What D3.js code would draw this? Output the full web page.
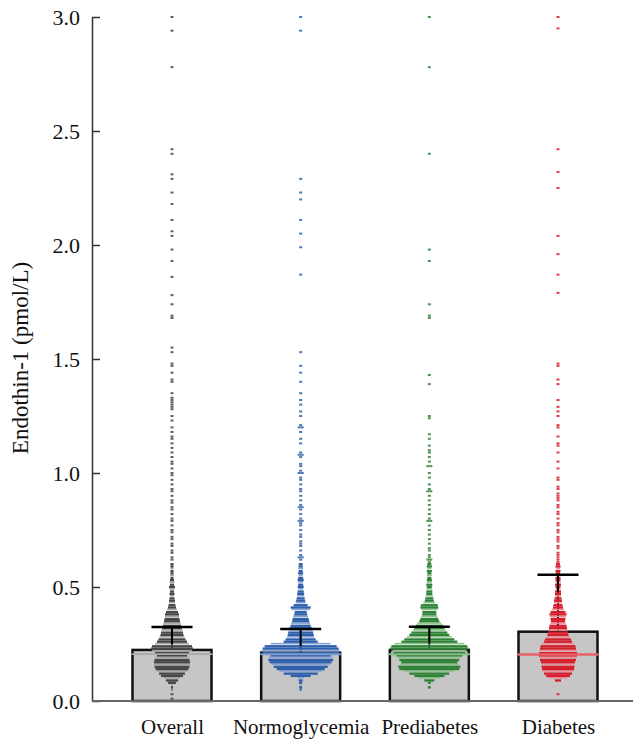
<!DOCTYPE html>
<html>
<head>
<meta charset="utf-8">
<script src="https://cdn.jsdelivr.net/npm/d3@7"></script>
<style>
  html, body { margin: 0; padding: 0; background: #fff; }
  svg { display: block; }
</style>
</head>
<body>
<svg id="chart" width="635" height="746"></svg>
<script>
// ---------------- DATA ----------------
const categories = ["Overall", "Normoglycemia", "Prediabetes", "Diabetes"];
const barMeans   = [0.224, 0.212, 0.224, 0.304];
const errUpper   = [0.325, 0.316, 0.326, 0.554];
const medians    = [0.206, 0.205, 0.205, 0.204];
const yTicks     = [0.0, 0.5, 1.0, 1.5, 2.0, 2.5, 3.0];
const yTitle     = "Endothin-1 (pmol/L)";

// Dense part: binned widths (points per 0.01 pmol/L bin), bins start at 0.05
const binStart = 0.05;
const binStep  = 0.01;
const overallBins = [1,2,3,8,12,16,22,26,30,33,35,36,36,35,33,30,34,40,42,40,34,30,27,25,23,22,21,20,18,17,16,15,14,14,12,10,8,7,6,6,5,4,5,4,5,6,4,5,4,3,4,3,3,3,3,3];
const normoBins   = [2,3,2,3,4,6,20,34,42,48,54,58,62,65,64,60,76,78,76,72,60,34,30,27,26,25,23,22,20,19,17,16,15,13,12,18,20,14,10,9,8,7,7,6,5,6,5,5,6,5,4,5,4,5,4,4];
const preBins     = [0,2,0,3,10,22,30,40,50,60,62,58,56,60,64,66,72,74,78,76,70,56,50,45,40,36,33,30,27,24,20,18,16,14,14,16,18,17,12,9,8,7,6,6,6,5,6,5,5,4,5,4,5,4,5,4];
const diabBins    = [0,0,0,0,6,18,24,28,31,32,33,33,34,36,38,38,38,37,36,35,32,28,26,23,21,20,19,18,17,15,14,15,16,17,15,12,10,9,8,8,7,6,6,6,5,5,6,5,5,5,5,4,5,4,5,4];

// Sparse part: individual values above 0.60 (and isolated low values)
const overallHigh = [0.01,0.03,0.62,0.63,0.65,0.66,0.68,0.69,0.71,0.72,0.74,0.75,0.77,0.79,0.80,0.82,0.84,0.85,0.87,0.88,0.90,0.92,0.93,0.95,0.97,0.99,1.00,1.02,1.04,1.05,1.07,1.09,1.11,1.13,1.15,1.16,1.18,1.20,1.23,1.25,1.28,1.29,1.30,1.31,1.32,1.33,1.35,1.40,1.41,1.44,1.47,1.48,1.53,1.55,1.68,1.69,1.74,1.78,1.86,1.93,1.98,2.04,2.06,2.11,2.18,2.23,2.29,2.31,2.40,2.42,2.78,2.94,3.00];
const normoHigh   = [0.62,0.63,0.63,0.64,0.66,0.68,0.69,0.70,0.72,0.73,0.75,0.77,0.78,0.79,0.79,0.80,0.82,0.84,0.85,0.85,0.86,0.88,0.90,0.92,0.93,0.95,0.97,0.98,1.00,1.00,1.01,1.03,1.04,1.07,1.08,1.08,1.09,1.13,1.15,1.18,1.20,1.20,1.21,1.25,1.27,1.30,1.32,1.35,1.40,1.44,1.47,1.53,1.87,1.99,2.05,2.11,2.20,2.23,2.29,2.94,3.00];
const preHigh     = [0.06,0.61,0.62,0.62,0.63,0.64,0.66,0.67,0.69,0.71,0.73,0.75,0.77,0.79,0.79,0.80,0.82,0.84,0.86,0.88,0.90,0.92,0.92,0.93,0.95,0.98,1.00,1.03,1.03,1.05,1.07,1.09,1.10,1.12,1.15,1.17,1.24,1.25,1.39,1.43,1.68,1.69,1.74,1.93,1.98,2.40,2.78,3.00];
const diabHigh    = [0.03,0.61,0.62,0.63,0.64,0.65,0.67,0.68,0.70,0.71,0.72,0.74,0.75,0.77,0.78,0.80,0.82,0.83,0.85,0.86,0.88,0.89,0.90,0.91,0.93,0.94,0.97,0.98,1.02,1.05,1.09,1.12,1.13,1.16,1.20,1.21,1.25,1.27,1.29,1.32,1.39,1.41,1.47,1.48,1.79,1.87,1.96,2.04,2.25,2.32,2.42,2.95,3.00];

const darkColors  = ["#474747", "#2d5fab", "#2f8236", "#d61f2e"];
const lightColors = ["#a3a3a3", "#86a3d3", "#8fc18f", "#ec8e96"];
const medianColors = ["#a8a8a8", "#7d9bd0", "#86bb86", "#e8606c"];

// ---------------- CHART ----------------
const svg = d3.select("#chart");
const y = d3.scaleLinear().domain([0, 3.0]).range([701, 17]);
const x = d3.scalePoint().domain(categories).range([172, 558]);
const countW = d3.scaleLinear().domain([0, 80]).range([0, 80]);
const barW = 79;
const serif = "'Liberation Serif', 'Times New Roman', serif";

const allBins = [overallBins, normoBins, preBins, diabBins];
const allHigh = [overallHigh, normoHigh, preHigh, diabHigh];

// bars
svg.append("g").selectAll("rect")
  .data(categories)
  .join("rect")
  .attr("x", d => x(d) - barW / 2)
  .attr("y", (d, i) => y(barMeans[i]))
  .attr("width", barW)
  .attr("height", (d, i) => y(0) - y(barMeans[i]))
  .attr("fill", "#c6c6c6")
  .attr("stroke", "#111")
  .attr("stroke-width", 2.5);

// error bar stems (under the dots)
const ebStem = svg.append("g").attr("stroke", "#000").attr("stroke-width", 2);
categories.forEach((cat, i) => {
  const cx = x(cat);
  ebStem.append("line").attr("x1", cx).attr("x2", cx)
    .attr("y1", y(barMeans[i])).attr("y2", y(errUpper[i]));
});

// dense strips
categories.forEach((cat, gi) => {
  const cx = x(cat);
  const bins = allBins[gi].map((c, k) => ({ v: binStart + k * binStep, c, k })).filter(b => b.c > 0);
  svg.append("g").selectAll("rect")
    .data(bins)
    .join("rect")
    .attr("x", b => cx - countW(b.c) / 2)
    .attr("y", b => y(b.v) - 1.15)
    .attr("width", b => countW(b.c))
    .attr("height", b => (b.k % 3 === 2 ? 1.6 : 2.3))
    .attr("fill", b => (b.k % 3 === 2 ? lightColors[gi] : darkColors[gi]));

  // sparse points (equal values stacked side by side)
  const groups = d3.groups(allHigh[gi], v => v);
  const pts = [];
  groups.forEach(([v, arr]) => {
    arr.forEach((_, j) => pts.push({ v, off: (j - (arr.length - 1) / 2) * 3 }));
  });
  svg.append("g").selectAll("rect")
    .data(pts)
    .join("rect")
    .attr("x", p => cx + p.off - 1.5)
    .attr("y", p => y(p.v) - 1)
    .attr("width", 3)
    .attr("height", 2)
    .attr("fill", darkColors[gi])
    .attr("opacity", 0.85);

  // stem visible where strips are narrow
  svg.append("line").attr("x1", cx).attr("x2", cx)
    .attr("y1", y(Math.max(barMeans[gi], errUpper[gi] - 0.075))).attr("y2", y(errUpper[gi]))
    .attr("stroke", "#000").attr("stroke-width", 2);
});

// median lines
svg.append("g").selectAll("line")
  .data(categories)
  .join("line")
  .attr("x1", d => x(d) - barW / 2 - 1)
  .attr("x2", d => x(d) + barW / 2 + 1)
  .attr("y1", (d, i) => y(medians[i]))
  .attr("y2", (d, i) => y(medians[i]))
  .attr("stroke", (d, i) => medianColors[i])
  .attr("stroke-width", (d, i) => (i === 3 ? 2.5 : 1.8));

// error bar caps
const eb = svg.append("g").attr("stroke", "#000").attr("stroke-width", 2.5);
categories.forEach((cat, i) => {
  const cx = x(cat);
  eb.append("line").attr("x1", cx - 20.5).attr("x2", cx + 20.5)
    .attr("y1", y(errUpper[i])).attr("y2", y(errUpper[i]));
});

// y axis
const yAxis = d3.axisLeft(y).tickValues(yTicks).tickFormat(d3.format(".1f"))
  .tickSizeInner(-8).tickSizeOuter(0).tickPadding(12);
const gy = svg.append("g").attr("transform", "translate(92,0)").call(yAxis);
gy.select(".domain").attr("stroke", "#333").attr("stroke-width", 1.5);
gy.selectAll(".tick line").attr("stroke", "#333").attr("stroke-width", 1.5);
gy.selectAll(".tick text")
  .attr("font-family", serif)
  .attr("font-size", 22).attr("fill", "#111");

// x axis
const xAxis = d3.axisBottom(x).tickSize(0).tickPadding(18);
const gx = svg.append("g").attr("transform", "translate(0,701)").call(xAxis);
gx.select(".domain").remove();
gx.append("line").attr("x1", 92).attr("x2", 633).attr("y1", 0).attr("y2", 0)
  .attr("stroke", "#666").attr("stroke-width", 2);
gx.selectAll(".tick text")
  .attr("font-family", serif)
  .attr("font-size", 21).attr("fill", "#111");

// y title
svg.append("text")
  .attr("transform", "translate(28,358) rotate(-90)")
  .attr("text-anchor", "middle")
  .attr("font-family", serif)
  .attr("font-size", 23)
  .attr("fill", "#111")
  .text(yTitle);
</script>
</body>
</html>
